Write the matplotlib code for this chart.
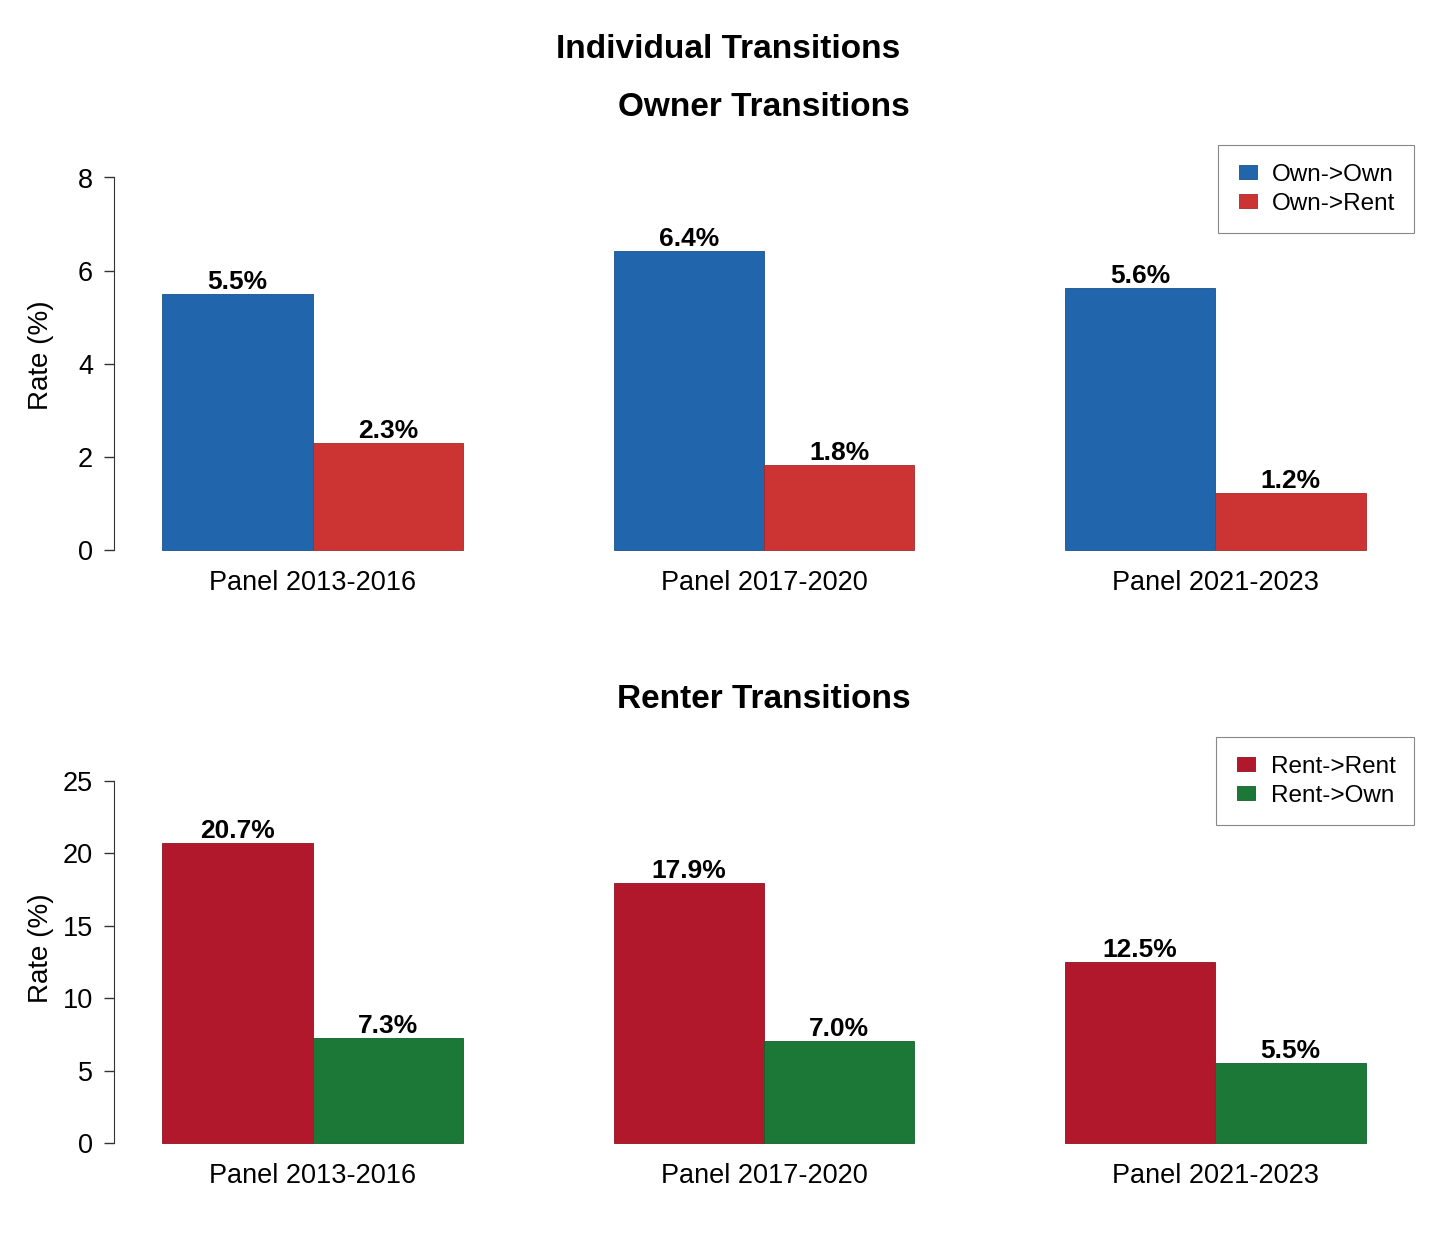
import matplotlib
matplotlib.use("Agg")
import matplotlib.pyplot as plt
from matplotlib.lines import Line2D
from matplotlib.path import Path

plt.rcParams['font.family'] = ['Liberation Sans', 'DejaVu Sans']

panels = ["Panel 2013-2016", "Panel 2017-2020", "Panel 2021-2023"]
own_own = [5.50, 6.43, 5.63]
own_rent = [2.30, 1.83, 1.23]
rent_rent = [20.72, 17.94, 12.50]
rent_own = [7.27, 7.04, 5.52]

W, H = 1456, 1248
fig = plt.figure(figsize=(W / 100, H / 100), dpi=100)

RECT = Path([(-0.64, -0.5), (0.64, -0.5), (0.64, 0.5), (-0.64, 0.5), (-0.64, -0.5)],
            [Path.MOVETO, Path.LINETO, Path.LINETO, Path.LINETO, Path.CLOSEPOLY])

def draw(s1, s2, names, colors, edges, title, ticks, zero_px, scale):
    ymax = max(max(s1), max(s2)) * 1.3
    ext = ymax * 0.04
    top = zero_px - (ymax + ext) * scale
    bottom = zero_px + ext * scale
    left, right = 114, 1414
    ax = fig.add_axes([left / W, (H - bottom) / H, (right - left) / W, (bottom - top) / H])
    x1 = [1.5 + 3 * i for i in range(len(panels))]
    x2 = [2.5 + 3 * i for i in range(len(panels))]
    ax.bar(x1, s1, width=1.0, color=colors[0], edgecolor=edges[0], linewidth=0.6)
    ax.bar(x2, s2, width=1.0, color=colors[1], edgecolor=edges[1], linewidth=0.6)
    for xs, vals in ((x1, s1), (x2, s2)):
        for x, v in zip(xs, vals):
            ax.annotate(f"{v:.1f}%", (x, v), xytext=(0, 3.6), textcoords="offset points",
                        ha="center", va="baseline", fontsize=19, fontweight="bold")
    ax.set_xlim(0.68, 9.32)
    ax.set_ylim(-ext, ymax + ext)
    ax.set_xticks([2 + 3 * i for i in range(len(panels))])
    ax.set_xticklabels(panels, fontsize=19.5)
    ax.tick_params(axis="x", length=0, pad=3)
    ax.set_yticks(ticks)
    ax.set_yticklabels([str(t) for t in ticks], fontsize=19.5)
    ax.tick_params(axis="y", length=7, width=1.0, color="#333333", pad=8)
    for s in ("top", "right", "bottom"):
        ax.spines[s].set_visible(False)
    ax.spines["left"].set_bounds(ticks[0], ticks[-1])
    ax.spines["left"].set_color("#333333")
    ax.set_ylabel("Rate (%)", fontsize=20)
    ax.yaxis.set_label_coords((54 - 114) / 1300, 0.5)
    ax.set_title(title, fontsize=24, fontweight="bold", pad=21)
    handles = [Line2D([], [], linestyle="none", marker=RECT, markersize=13,
                      markerfacecolor=colors[k], markeredgecolor=edges[k], markeredgewidth=0.6)
               for k in range(2)]
    leg = ax.legend(handles, names, loc="upper right", fontsize=17.5, frameon=True,
                    fancybox=False, edgecolor="#888888", framealpha=1,
                    borderaxespad=0, handlelength=0.95, handletextpad=0.53,
                    borderpad=0.76, labelspacing=0.3)
    leg.get_frame().set_linewidth(0.8)
    return ax

draw(own_own, own_rent, ["Own->Own", "Own->Rent"],
     ["#2166AC", "#CC3333"], ["#1A528A", "#A62929"], "Owner Transitions",
     [0, 2, 4, 6, 8], 550.3, 46.6)

draw(rent_rent, rent_own, ["Rent->Rent", "Rent->Own"],
     ["#B2182B", "#1B7837"], ["#8E1322", "#15602C"], "Renter Transitions",
     [0, 5, 10, 15, 20, 25], 1143.0, 14.49)

fig.text(0.5, 1 - 50 / H, "Individual Transitions", ha="center", va="center",
         fontsize=24, fontweight="bold")

fig.savefig("out.png", dpi=100, facecolor="white")
